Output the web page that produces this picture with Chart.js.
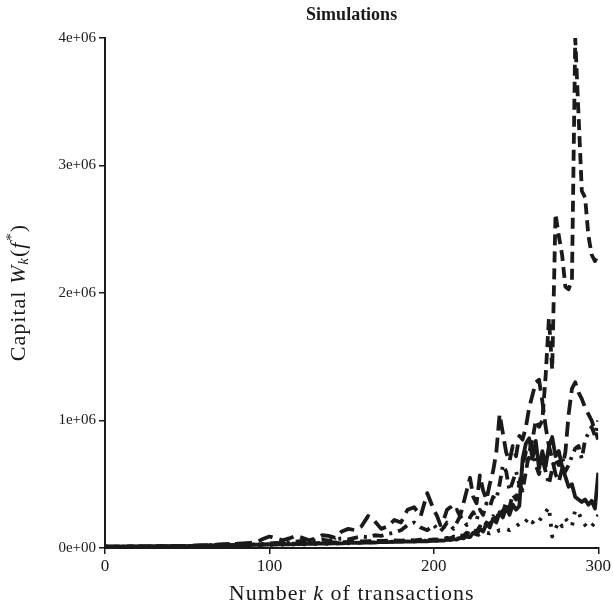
<!DOCTYPE html>
<html>
<head>
<meta charset="utf-8">
<script src="https://cdn.jsdelivr.net/npm/chart.js@4/dist/chart.umd.min.js"></script>
<style>
  html, body { margin: 0; padding: 0; background: #ffffff; }
  #wrap { width: 613px; height: 607px; position: relative; }
</style>
</head>
<body>
<div id="wrap"><canvas id="c" width="613" height="607"></canvas></div>
<script>
// Transaction numbers k at which values were read
const kSteps = [
  0,4,8,12,16,20,24,28,32,36,40,44,48,52,56,60,64,68,72,76,80,84,88,92,96,100,
  104,108,112,116,120,124,128,132,136,140,144,148,152,156,160,164,168,172,176,180,
  184,188,192,196,200,
  202,204,206,208,210,212,214,216,218,220,222,224,226,228,230,232,234,236,238,240,
  242,244,246,248,250,252,254,256,258,260,262,264,266,268,270,272,274,276,278,280,
  282,284,286,288,290,292,294,296,298,300
];

// Capital, in thousands
const simSolid = [
  10,10,11,10,12,11,12,13,12,14,13,15,14,16,15,18,17,20,19,22,21,24,22,26,25,28,
  26,30,28,32,30,34,33,36,34,38,36,40,42,40,45,43,48,46,50,48,
  52,50,55,52,58,
  55,60,58,65,62,70,66,80,75,95,85,120,105,150,130,190,160,230,200,280,
  240,320,260,340,300,330,700,820,860,700,840,620,760,640,800,870,720,760,640,560,
  480,500,400,380,360,380,340,370,310,590
];
const simDashed = [
  10,10,11,11,12,12,13,13,14,14,15,16,17,17,18,19,20,21,22,23,24,25,26,27,28,30,
  31,32,33,35,36,38,39,41,43,44,46,48,50,52,54,56,55,58,60,58,
  62,60,65,62,68,
  65,72,70,80,75,90,85,100,95,120,110,140,130,170,150,200,180,250,220,300,
  280,360,320,420,380,500,450,600,750,850,1000,950,1000,1350,1800,1400,2620,2450,2300,2050,
  2030,2100,4000,3400,2800,2750,2450,2300,2250,2300
];
const simDotted = [
  10,10,10,10,10,11,11,11,12,12,12,13,13,14,14,15,15,16,17,18,19,20,21,22,23,24,
  25,26,27,28,29,30,32,34,33,36,38,37,40,42,45,43,47,50,48,52,
  55,53,58,56,60,
  62,58,65,70,66,75,72,80,78,90,85,100,95,110,105,120,115,130,125,140,
  135,150,140,160,170,190,180,210,240,200,230,210,250,280,320,90,150,210,170,230,
  200,170,300,280,220,180,150,170,200,260
];
const simDotDash = [
  10,10,10,10,11,11,12,12,13,13,14,14,15,16,17,18,22,25,28,30,32,35,30,28,32,35,
  40,38,45,50,55,50,60,65,58,70,75,68,80,90,85,100,95,110,120,140,
  180,200,160,140,180,
  150,130,160,200,180,150,200,250,220,180,240,280,220,300,260,350,320,400,380,500,
  650,600,450,520,600,500,650,750,700,800,650,580,700,600,500,620,700,650,720,600,
  650,720,780,800,700,850,900,950,880,1000
];
const simLongDash = [
  10,10,10,11,11,12,12,13,13,14,15,16,17,18,20,22,24,26,28,30,33,36,40,45,70,90,
  75,60,75,95,80,60,75,100,95,80,130,150,140,170,250,210,150,170,220,200,
  300,320,250,430,300,
  250,180,220,300,320,280,300,250,350,450,550,400,350,570,450,380,500,600,750,1050,
  900,750,680,800,720,880,850,950,1100,1200,1300,1320,1150,950,800,700,580,520,620,750,
  1050,1250,1300,1220,1170,1100,1050,1000,920,850
];

const xTickValues = [0, 100, 200, 300];
const yTickValues = [0, 1000, 2000, 3000, 4000];
const yTickLabels = ['0e+00', '1e+06', '2e+06', '3e+06', '4e+06'];

const INK = '#1a1a1a';
const SERIF = '"Liberation Serif", "DejaVu Serif", serif';

function pts(vals) { return kSteps.map((k, i) => ({ x: k, y: vals[i] })); }

const series = [
  { data: simSolid,    dash: [] },
  { data: simDashed,   dash: [11, 6] },
  { data: simDotted,   dash: [3, 8] },
  { data: simDotDash,  dash: [3, 6, 11, 6] },
  { data: simLongDash, dash: [15, 7] }
];

const textPlugin = {
  id: 'texts',
  afterDraw(chart) {
    const ctx = chart.ctx;
    const a = chart.chartArea;
    ctx.save();
    ctx.fillStyle = INK;
    ctx.textBaseline = 'middle';
    // Title
    ctx.font = 'bold 18px ' + SERIF;
    ctx.textAlign = 'center';
    ctx.fillText('Simulations', (a.left + a.right) / 2, 15);

    ctx.textAlign = 'left';
    if ('letterSpacing' in ctx) ctx.letterSpacing = '1px';
    // x-axis title with italic k
    const xs = [
      { t: 'Number ', f: '22px ' + SERIF },
      { t: 'k', f: 'italic 22px ' + SERIF },
      { t: ' of transactions', f: '22px ' + SERIF }
    ];
    let w = 0;
    xs.forEach(s => { ctx.font = s.f; w += ctx.measureText(s.t).width; });
    let x = (a.left + a.right) / 2 - w / 2;
    xs.forEach(s => { ctx.font = s.f; ctx.fillText(s.t, x, 594); x += ctx.measureText(s.t).width; });

    // y-axis title, rotated
    const ys = [
      { t: 'Capital ', f: '22px ' + SERIF, dy: 0 },
      { t: 'W', f: 'italic 22px ' + SERIF, dy: 0 },
      { t: 'k', f: 'italic 15px ' + SERIF, dy: 5 },
      { t: '(', f: '22px ' + SERIF, dy: 0 },
      { t: 'f', f: 'italic 22px ' + SERIF, dy: 0 },
      { t: '*', f: '15px ' + SERIF, dy: -7 },
      { t: ')', f: '22px ' + SERIF, dy: 0 }
    ];
    ctx.translate(19, (a.top + a.bottom) / 2);
    ctx.rotate(-Math.PI / 2);
    w = 0;
    ys.forEach(s => { ctx.font = s.f; w += ctx.measureText(s.t).width; });
    x = -w / 2;
    ys.forEach(s => { ctx.font = s.f; ctx.fillText(s.t, x, s.dy); x += ctx.measureText(s.t).width + (s.t === 'f' ? 1 : 0); });
    ctx.restore();
  }
};

new Chart(document.getElementById('c'), {
  type: 'line',
  data: {
    datasets: series.map(s => ({
      data: pts(s.data),
      borderColor: INK,
      borderWidth: 3.8,
      borderDash: s.dash,
      borderCapStyle: 'butt',
      borderJoinStyle: 'round',
      pointRadius: 0,
      tension: 0,
      fill: false
    }))
  },
  options: {
    responsive: false,
    animation: false,
    layout: { padding: { left: 0, right: 13, top: 38, bottom: 0 } },
    plugins: { legend: { display: false }, tooltip: { enabled: false }, title: { display: false } },
    scales: {
      x: {
        type: 'linear',
        min: 0, max: 300,
        afterFit(scale) { scale.height = 59; },
        afterBuildTicks(scale) { scale.ticks = xTickValues.map(v => ({ value: v })); },
        grid: { drawOnChartArea: false, drawTicks: true, tickLength: 6, color: INK, lineWidth: 1.5 },
        border: { display: true, color: INK, width: 2 },
        ticks: { color: INK, font: { family: SERIF, size: 17 }, padding: 2, maxRotation: 0 }
      },
      y: {
        type: 'linear',
        min: 0, max: 4000,
        afterFit(scale) { scale.width = 105; },
        afterBuildTicks(scale) { scale.ticks = yTickValues.map(v => ({ value: v })); },
        grid: { drawOnChartArea: false, drawTicks: true, tickLength: 6, color: INK, lineWidth: 1.5 },
        border: { display: true, color: INK, width: 2 },
        ticks: {
          color: INK, font: { family: SERIF, size: 15 }, padding: 3,
          callback: (v) => { const i = yTickValues.indexOf(v); return i >= 0 ? yTickLabels[i] : ''; }
        }
      }
    }
  },
  plugins: [textPlugin]
});
</script>
</body>
</html>
